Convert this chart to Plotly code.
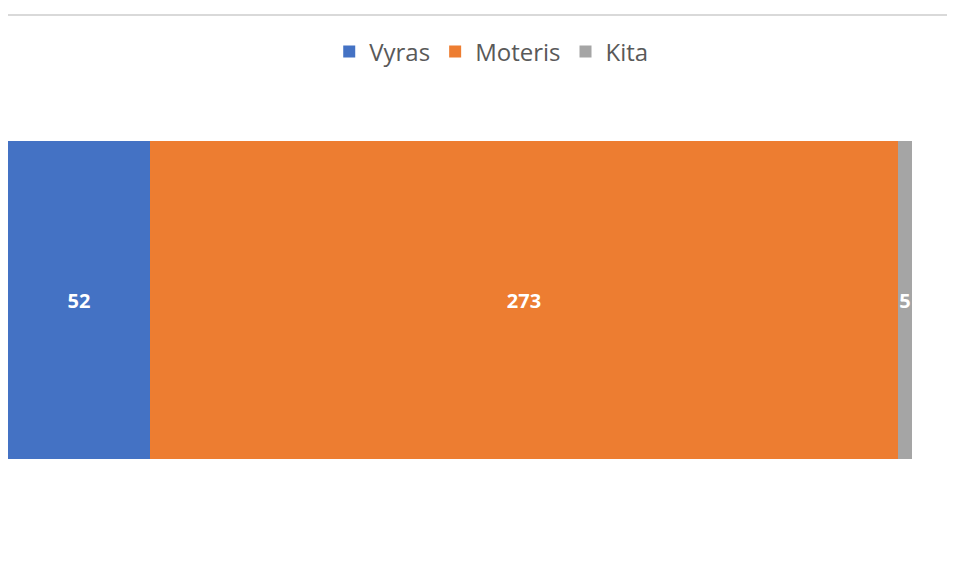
import plotly.graph_objects as go

category = [""]
series_names = ["Vyras", "Moteris", "Kita"]
series_values = [52, 273, 5]
colors = ["#4472c4", "#ed7d31", "#a5a5a5"]

fig = go.Figure()
for name, val, col in zip(series_names, series_values, colors):
    fig.add_trace(go.Bar(
        y=category, x=[val], name=name, orientation="h",
        marker=dict(color=col, line=dict(width=0)),
        text=[str(val)], textposition="inside", insidetextanchor="middle",
        constraintext="none", cliponaxis=False,
        textfont=dict(family="Open Sans", size=20, color="white", weight="bold"),
    ))

# thin grey rule at the top of the chart
fig.add_shape(type="line", xref="paper", yref="paper",
              x0=-0.01, x1=1.06, y0=1.396, y1=1.396,
              line=dict(color="#d9d9d9", width=2))

fig.update_layout(
    barmode="stack", bargap=0,
    width=955, height=575,
    margin=dict(l=0, r=51, t=133, b=124),
    plot_bgcolor="white", paper_bgcolor="white",
    xaxis=dict(visible=False, range=[0, sum(series_values)]),
    yaxis=dict(visible=False, range=[-0.5, 0.5]),
    showlegend=True,
    legend=dict(orientation="h", xref="container", yref="container",
                x=0.506, xanchor="center", y=0.9235, yanchor="middle",
                traceorder="normal",
                font=dict(family="Open Sans", size=24, color="#595959"),
                itemsizing="constant"),
)

fig.write_html("out.html")
